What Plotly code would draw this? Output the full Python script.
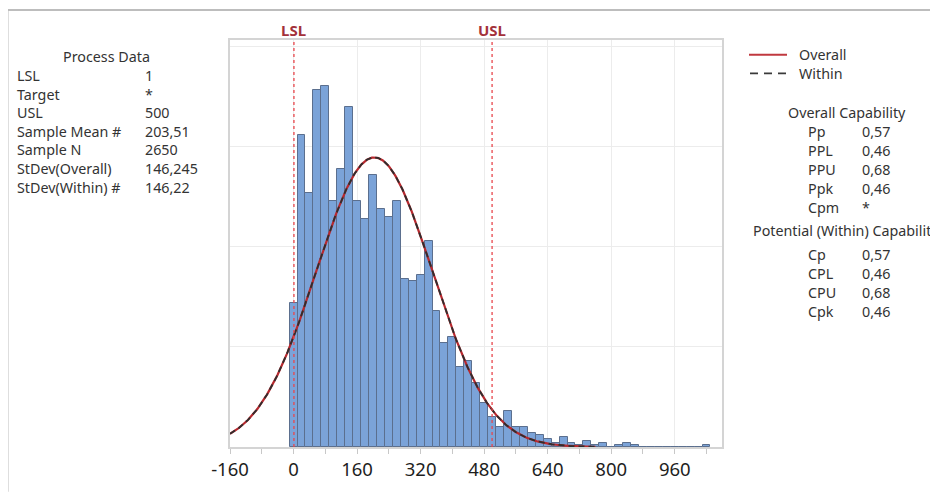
import numpy as np
import plotly.graph_objects as go

# ---------------- data ----------------
bin_centers = [0, 20, 40, 60, 80, 100, 120, 140, 160, 180, 200, 220, 240, 260, 280,
               300, 320, 340, 360, 380, 400, 420, 440, 460, 480, 500, 520, 540, 560,
               580, 600, 620, 640, 660, 680, 700, 720, 740, 760, 780, 800, 820, 840,
               860, 880, 900, 920, 940, 960, 980, 1000, 1020, 1040]
bin_counts = [72, 156, 127, 178, 180, 123, 139, 170, 123, 114, 136, 119, 115, 123, 84,
              83, 86, 103, 68, 52, 55, 40, 43, 32, 22, 15, 10, 18, 10,
              10, 7, 6, 4, 2, 5, 2, 1, 3, 1, 2, 0, 1, 2,
              1, 0, 0, 0, 0, 0, 0, 0, 0, 1]
BIN_WIDTH = 20

LSL = 1
USL = 500
SAMPLE_MEAN = 203.51
SAMPLE_N = 2650
STDEV_OVERALL = 146.245
STDEV_WITHIN = 146.22

process_labels = ["LSL", "Target", "USL", "Sample Mean #", "Sample N", "StDev(Overall)", "StDev(Within) #"]
process_values = ["1", "*", "500", "203,51", "2650", "146,245", "146,22"]

overall_labels = ["Pp", "PPL", "PPU", "Ppk", "Cpm"]
overall_values = ["0,57", "0,46", "0,68", "0,46", "*"]
within_labels = ["Cp", "CPL", "CPU", "Cpk"]
within_values = ["0,57", "0,46", "0,68", "0,46"]

x_tick_vals = [-160, 0, 160, 320, 480, 640, 800, 960]
x_minor_vals = [-80, 80, 240, 400, 560, 720, 880, 1040]

# ---------------- layout geometry (page pixels) ----------------
OFF = 8                       # page body margin
W, H = 938 - OFF, 493 - OFF   # figure size
PL, PR, PT, PB = 230, 722, 40, 454.5   # plot area edges in page pixels
X_RANGE = [-160, 1079]
Y_RANGE = [0, 203.2]

def px(x):  # page pixel x -> paper
    return (x - PL) / (PR - PL)

def py(y):  # page pixel y -> paper
    return (PB - y) / (PB - PT)

FONT = "Noto Sans, Open Sans, sans-serif"
TXT = "#333333"
TS = 14.3

fig = go.Figure()

fig.add_trace(go.Bar(
    x=bin_centers, y=bin_counts, width=BIN_WIDTH,
    marker=dict(color="#7BA3D8", line=dict(color="#5B6F8E", width=1)),
    showlegend=False, hoverinfo="x+y"))

xc = np.linspace(-160, 760, 400)
def fitted(sd):
    return SAMPLE_N * BIN_WIDTH * np.exp(-0.5 * ((xc - SAMPLE_MEAN) / sd) ** 2) / (sd * np.sqrt(2 * np.pi))

fig.add_trace(go.Scatter(x=xc, y=fitted(STDEV_OVERALL), mode="lines",
                         line=dict(color="#B8282E", width=2.2), showlegend=False))
fig.add_trace(go.Scatter(x=xc, y=fitted(STDEV_WITHIN), mode="lines",
                         line=dict(color="#2E2E2E", width=1.8, dash="6px,4px"), showlegend=False))

shapes = []
annotations = []

# spec limits
for val, name in [(LSL, "LSL"), (USL, "USL")]:
    shapes.append(dict(type="line", xref="x", yref="paper", x0=val, x1=val, y0=0, y1=1,
                       line=dict(color="#E8474C", width=1.3, dash="dot"), layer="above"))
    annotations.append(dict(xref="x", yref="paper", x=val, y=py(30), text=name, showarrow=False,
                            xanchor="center", yanchor="middle",
                            font=dict(family=FONT, size=15, color="#A3313A", weight="bold")))

# outer frame (top and left)
shapes.append(dict(type="line", xref="paper", yref="paper", x0=px(7), x1=px(945), y0=py(9.5), y1=py(9.5),
                   line=dict(color="#BDBDBD", width=2)))
shapes.append(dict(type="line", xref="paper", yref="paper", x0=px(7.5), x1=px(7.5), y0=py(9.5), y1=py(500),
                   line=dict(color="#BDBDBD", width=2)))

def txt(x, y, s, anchor="left", size=TS, color=TXT):
    annotations.append(dict(xref="paper", yref="paper", x=px(x), y=py(y), text=s, showarrow=False,
                            xanchor=anchor, yanchor="middle",
                            font=dict(family=FONT, size=size, color=color)))

# process data panel
txt(106, 57, "Process Data", anchor="center")
for i, (lab, v) in enumerate(zip(process_labels, process_values)):
    yy = 76 + i * 19
    txt(15, yy, lab)
    txt(143, yy, v)

# legend
shapes.append(dict(type="line", xref="paper", yref="paper", x0=px(749), x1=px(787), y0=py(55), y1=py(55),
                   line=dict(color="#C0393F", width=2)))
shapes.append(dict(type="line", xref="paper", yref="paper", x0=px(750), x1=px(787), y0=py(74), y1=py(74),
                   line=dict(color="#3A3A3A", width=1.6, dash="8px,6px")))
txt(797, 55, "Overall")
txt(797, 74, "Within")

# overall capability
txt(847, 114, "Overall Capability", anchor="center")
for i, (lab, v) in enumerate(zip(overall_labels, overall_values)):
    yy = 133 + i * 19.5
    txt(806, yy, lab)
    txt(860, yy, v)

# within capability
txt(751, 234, "Potential (Within) Capability")
for i, (lab, v) in enumerate(zip(within_labels, within_values)):
    yy = 258 + i * 19.5
    txt(806, yy, lab)
    txt(860, yy, v)

fig.update_layout(
    width=W, height=H,
    margin=dict(l=PL - OFF, r=W - (PR - OFF), t=PT - OFF, b=H - (PB - OFF), pad=0),
    paper_bgcolor="white", plot_bgcolor="white",
    bargap=0, showlegend=False,
    shapes=shapes, annotations=annotations,
    xaxis=dict(range=X_RANGE, tickvals=x_tick_vals, ticktext=[str(v) for v in x_tick_vals],
               showgrid=True, gridcolor="#ECECEC", gridwidth=1, zeroline=False,
               showline=True, linecolor="#D4D4D4", linewidth=1.5, mirror=True,
               ticks="outside", ticklen=5, tickcolor="#C8C8C8",
               minor=dict(tickvals=x_minor_vals, ticks="outside", ticklen=5,
                          tickcolor="#C8C8C8", showgrid=False),
               tickfont=dict(family=FONT, size=18.5, color="#1E1E1E")),
    yaxis=dict(range=Y_RANGE, showticklabels=False, dtick=50, tick0=0,
               showgrid=True, gridcolor="#ECECEC", gridwidth=1, zeroline=False,
               showline=True, linecolor="#D4D4D4", linewidth=1.5, mirror=True, ticks=""),
)

fig.write_html("out.html",
               post_script="document.documentElement.style.overflow='hidden';"
                           "document.body.style.overflow='hidden';")
